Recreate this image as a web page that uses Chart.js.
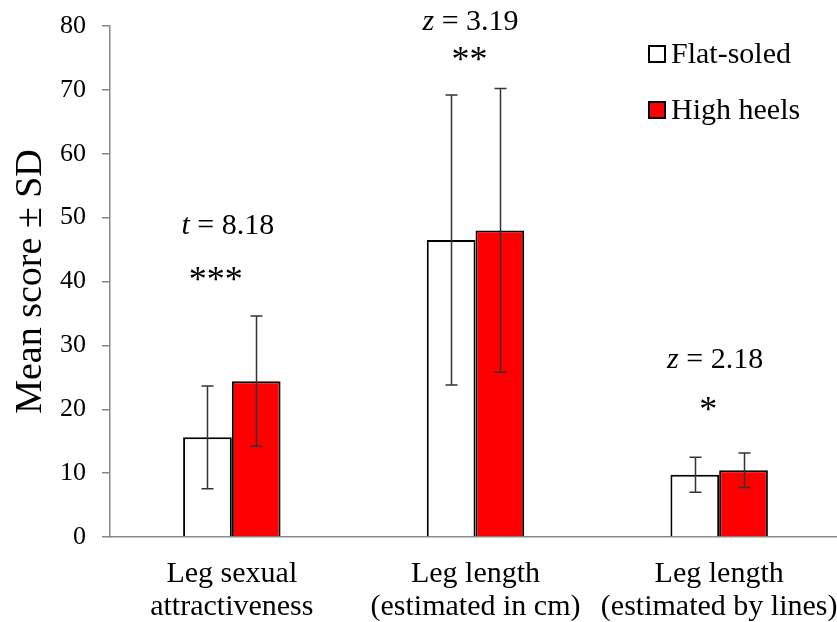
<!DOCTYPE html>
<html>
<head>
<meta charset="utf-8">
<script src="https://cdn.jsdelivr.net/npm/chart.js@4"></script>
<style>
  html, body { margin: 0; padding: 0; background: #fff; overflow: hidden; }
  #wrap { width: 841px; height: 622px; }
</style>
</head>
<body>
<div id="wrap"><canvas id="chart"></canvas></div>
<script>
// data
const categories = [
  ['Leg sexual', 'attractiveness'],
  ['Leg length', '(estimated in cm)'],
  ['Leg length', '(estimated by lines)']
];
const seriesNames = ['Flat-soled', 'High heels'];
const flatMean = [15.6, 46.5, 9.75];
const flatSD = [8.05, 22.7, 2.75];
const heelsMean = [24.4, 48.0, 10.45];
const heelsSD = [10.2, 22.2, 2.7];
const statVar = ['t', 'z', 'z'];
const statText = [' = 8.18', ' = 3.19', ' = 2.18'];
const stars = ['***', '**', '*'];
const yTicks = [0, 10, 20, 30, 40, 50, 60, 70, 80];

const FONT = '"Liberation Serif", "Times New Roman", serif';

// where the stat labels sit: [x offset px from category centre, baseline value]
const statPos = [[-4, 47.5], [-5, 79.4], [-4, 26.4]];
const starPos = [[-16, 38.5], [-6, 73], [-11, 18.2]];

// error bars
const errorBars = {
  id: 'errorBars',
  afterDatasetsDraw(chart) {
    const ctx = chart.ctx;
    const y = chart.scales.y;
    const sds = [flatSD, heelsSD];
    ctx.save();
    ctx.strokeStyle = '#333';
    ctx.lineWidth = 1.5;
    chart.data.datasets.forEach((ds, di) => {
      chart.getDatasetMeta(di).data.forEach((bar, i) => {
        const m = ds.data[i], sd = sds[di][i];
        const x = Math.round(bar.x) + 0.5;
        const top = y.getPixelForValue(m + sd);
        const bot = y.getPixelForValue(m - sd);
        ctx.beginPath();
        ctx.moveTo(x, top); ctx.lineTo(x, bot);
        ctx.moveTo(x - 6, top); ctx.lineTo(x + 6, top);
        ctx.moveTo(x - 6, bot); ctx.lineTo(x + 6, bot);
        ctx.stroke();
      });
    });
    ctx.restore();
  }
};

// stat labels, stars and legend
const annotations = {
  id: 'annotations',
  afterDraw(chart) {
    const ctx = chart.ctx;
    const xs = chart.scales.x, ys = chart.scales.y;
    ctx.save();
    ctx.fillStyle = '#000';
    ctx.textBaseline = 'alphabetic';
    categories.forEach((c, i) => {
      const cx = xs.getPixelForValue(i);
      // italic variable + regular rest, centred
      ctx.font = 'italic 30px ' + FONT;
      const w1 = ctx.measureText(statVar[i]).width;
      ctx.font = '30px ' + FONT;
      const w2 = ctx.measureText(statText[i]).width;
      const sx = cx + statPos[i][0] - (w1 + w2) / 2;
      const sy = ys.getPixelForValue(statPos[i][1]);
      ctx.textAlign = 'left';
      ctx.font = 'italic 30px ' + FONT;
      ctx.fillText(statVar[i], sx, sy);
      ctx.font = '30px ' + FONT;
      ctx.fillText(statText[i], sx + w1, sy);
      ctx.font = '36px ' + FONT;
      ctx.textAlign = 'center';
      ctx.fillText(stars[i], cx + starPos[i][0], ys.getPixelForValue(starPos[i][1]));
    });
    // legend
    const colors = ['#ffffff', '#ff0000'];
    ctx.font = '30px ' + FONT;
    ctx.textAlign = 'left';
    ctx.textBaseline = 'middle';
    seriesNames.forEach((name, i) => {
      const cy = 54 + i * 56;
      ctx.fillStyle = colors[i];
      ctx.fillRect(649, cy - 8, 16, 16);
      ctx.strokeStyle = '#000';
      ctx.lineWidth = 2;
      ctx.strokeRect(649, cy - 8, 16, 16);
      ctx.fillStyle = '#000';
      ctx.fillText(name, 671, cy + 1);
    });
    ctx.restore();
  }
};

new Chart(document.getElementById('chart'), {
  type: 'bar',
  data: {
    labels: categories,
    datasets: [
      { label: seriesNames[0], data: flatMean, backgroundColor: '#ffffff', borderColor: '#000', borderWidth: 2 },
      { label: seriesNames[1], data: heelsMean, backgroundColor: '#ff0000', borderColor: '#000', borderWidth: 2 }
    ]
  },
  options: {
    responsive: true,
    maintainAspectRatio: false,
    animation: false,
    layout: { padding: { top: 26, right: 0, left: 0, bottom: 0 } },
    plugins: { legend: { display: false }, tooltip: { enabled: false } },
    datasets: { bar: { categoryPercentage: 0.4, barPercentage: 1 } },
    scales: {
      x: {
        grid: { display: false, drawTicks: false },
        border: { color: '#888', width: 1.5 },
        ticks: { color: '#000', font: { family: FONT, size: 30, lineHeight: 1.1 }, padding: 21, maxRotation: 0, autoSkip: false },
        afterFit(s) { s.height = 85; s.paddingLeft = 0; s.paddingRight = 0; }
      },
      y: {
        min: 0, max: 80,
        afterBuildTicks(s) { s.ticks = yTicks.map(v => ({ value: v })); },
        grid: { drawOnChartArea: false, drawTicks: true, tickLength: 8, color: '#888', lineWidth: 1.5 },
        border: { color: '#888', width: 1.5 },
        ticks: { color: '#000', font: { family: FONT, size: 26 }, padding: 16 },
        title: { display: true, text: 'Mean score ± SD', color: '#000', font: { family: FONT, size: 38, lineHeight: 1.2 }, padding: { top: 8, bottom: 0 } },
        afterFit(s) { s.width = 110; s.paddingTop = 0; s.paddingBottom = 0; }
      }
    }
  },
  plugins: [errorBars, annotations]
});
</script>
</body>
</html>
